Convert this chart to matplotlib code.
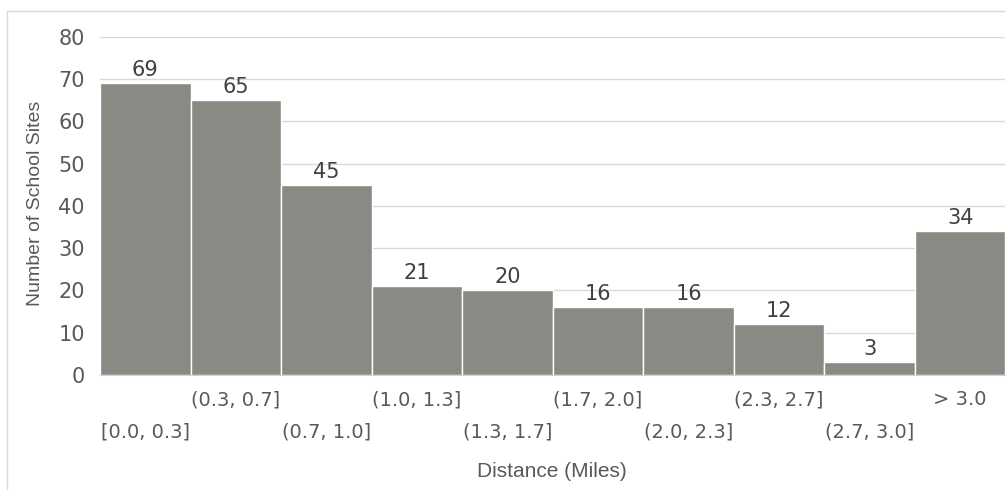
import matplotlib
matplotlib.use('Agg')
import matplotlib.pyplot as plt
from matplotlib.patches import Rectangle

# Distance bins and number of school sites in each
bins = ['[0.0, 0.3]', '(0.3, 0.7]', '(0.7, 1.0]', '(1.0, 1.3]', '(1.3, 1.7]',
        '(1.7, 2.0]', '(2.0, 2.3]', '(2.3, 2.7]', '(2.7, 3.0]', '> 3.0']
counts = [69, 65, 45, 21, 20, 16, 16, 12, 3, 34]

bar_color = '#8a8a84'
text_color = '#595959'
num_font = 'DejaVu Sans'

fig = plt.figure(figsize=(10.06, 4.9), dpi=100)
ax = fig.add_axes([0.0994, 0.2347, 0.9, 0.69])

# light frame round the chart area
fig.patches.append(Rectangle((7 / 1006, -0.01), 1.02, 1 - 11 / 490 + 0.01,
                             transform=fig.transFigure, fill=False,
                             edgecolor='#d9d9d9', linewidth=1.0))

x = list(range(len(counts)))
ax.bar(x, counts, width=1.0, color=bar_color, edgecolor='white', linewidth=1.0, zorder=2)

for xi, c in zip(x, counts):
    ax.annotate(str(c), (xi, c), xytext=(0, 3), textcoords='offset pixels',
                ha='center', va='bottom', fontsize=15, color='#404040',
                family=num_font)

ax.set_xlim(-0.5, len(counts) - 0.5)
ax.set_ylim(0, 80)
ax.set_yticks(range(0, 81, 10))
ax.set_yticklabels([str(v) for v in range(0, 81, 10)], fontsize=15, color=text_color,
                   family=num_font)
ax.tick_params(axis='y', length=0, pad=11)
ax.set_xticks([])
ax.grid(axis='y', color='#d9d9d9', linewidth=1.0, zorder=0)
for s in ['top', 'right', 'left']:
    ax.spines[s].set_visible(False)
ax.spines['bottom'].set_color('#d0d0d0')

# staggered bin labels, two rows
for xi, lab in zip(x, bins):
    off = -25 if xi % 2 == 1 else -57
    ax.annotate(lab, (xi, 0), xycoords=('data', 'axes fraction'),
                xytext=(0, off), textcoords='offset pixels',
                ha='center', va='center', fontsize=14, color=text_color,
                family=num_font)

fig.text(36 / 1006, 1 - 203 / 490, 'Number of School Sites', rotation=90,
         ha='center', va='center', fontsize=14, color=text_color,
         family='Liberation Sans')
fig.text(552 / 1006, 1 - 471 / 490, 'Distance (Miles)', ha='center', va='center',
         fontsize=15, color=text_color, family='Liberation Sans')

fig.savefig('out.png', dpi=100)
